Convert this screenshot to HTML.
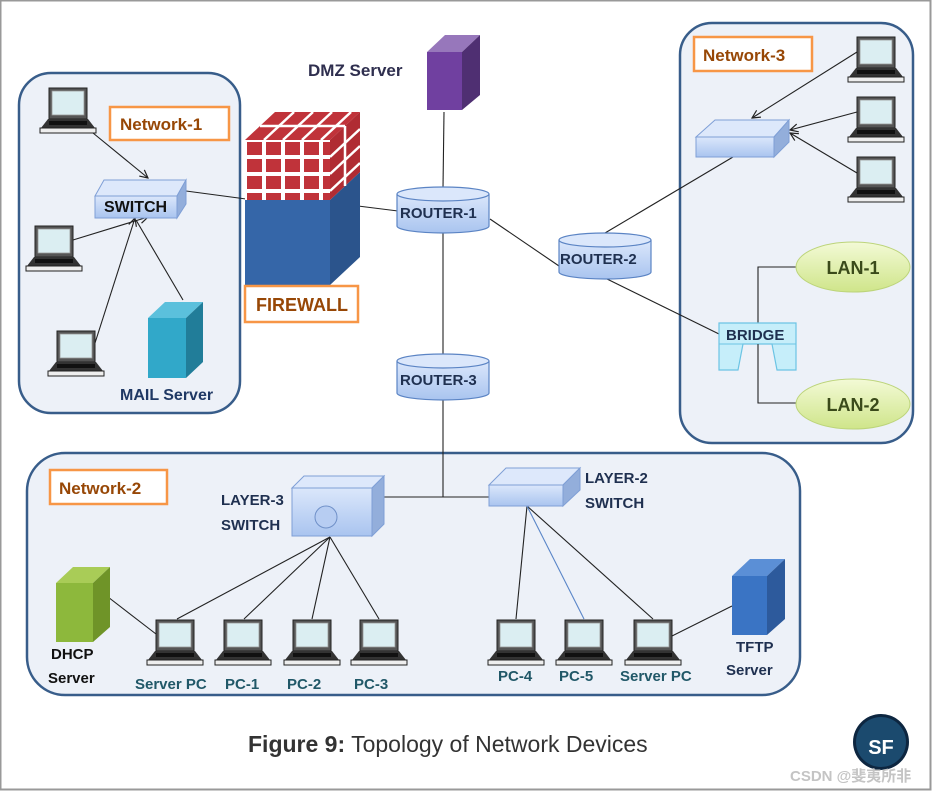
<!DOCTYPE html>
<html><head><meta charset="utf-8"><style>
html,body{margin:0;padding:0;background:#fff}
svg{display:block}
text{font-family:"Liberation Sans",sans-serif;font-weight:bold}
</style></head><body>
<svg width="932" height="791" viewBox="0 0 932 791" xmlns="http://www.w3.org/2000/svg">
<defs>
<linearGradient id="blu" x1="0" y1="0" x2="0" y2="1"><stop offset="0" stop-color="#dbe7fb"/><stop offset="1" stop-color="#a9c4ef"/></linearGradient>
<linearGradient id="lan" x1="0" y1="0" x2="0" y2="1"><stop offset="0" stop-color="#f3fad6"/><stop offset="1" stop-color="#cfe58a"/></linearGradient>
<pattern id="brick" width="19" height="17" patternUnits="userSpaceOnUse" x="245" y="140"><rect width="19" height="17" fill="#fff"/><rect x="2" y="2" width="15" height="13" fill="#c0333a"/></pattern>
<marker id="ar" markerWidth="10" markerHeight="10" refX="9" refY="5" orient="auto" markerUnits="userSpaceOnUse"><path d="M1,1 L9,5 L1,9" fill="none" stroke="#222" stroke-width="1.2"/></marker>
<g id="lap">
<rect x="0" y="0" width="38" height="31" fill="#555" stroke="#222"/>
<rect x="3" y="3" width="32" height="24" fill="#dbeef2" stroke="#999" stroke-width="0.8"/>
<path d="M-1,31 L39,31 L46,40 L-8,40 Z" fill="#333"/>
<rect x="-9" y="40" width="56" height="5" fill="#eee" stroke="#222"/>
<rect x="0" y="33" width="38" height="4" fill="#111"/>
</g>
</defs>
<rect x="0.5" y="0.5" width="930" height="789" fill="#fff" stroke="#999" stroke-width="2"/>

<rect x="19" y="73" width="221" height="340" rx="32" fill="#edf1f8" stroke="#385d8a" stroke-width="2.5"/>
<rect x="680" y="23" width="233" height="420" rx="32" fill="#edf1f8" stroke="#385d8a" stroke-width="2.5"/>
<rect x="27" y="453" width="773" height="242" rx="38" fill="#edf1f8" stroke="#385d8a" stroke-width="2.5"/>

<g stroke="#222" stroke-width="1.1" fill="none">
<line x1="93" y1="133" x2="148" y2="178" marker-end="url(#ar)"/>
<line x1="73" y1="240" x2="148" y2="217" marker-end="url(#ar)"/>
<line x1="95" y1="343" x2="135" y2="218" marker-end="url(#ar)"/>
<line x1="183" y1="300" x2="136" y2="220" />
<line x1="186" y1="191" x2="246" y2="199"/>
<line x1="358" y1="206" x2="398" y2="211"/>
<line x1="444" y1="112" x2="443" y2="188"/>
<line x1="443" y1="233" x2="443" y2="355"/>
<line x1="443" y1="400" x2="443" y2="497"/>
<line x1="384" y1="497" x2="489" y2="497"/>
<line x1="490" y1="219" x2="559" y2="266"/>
<line x1="605" y1="233" x2="733" y2="157"/>
<line x1="605" y1="278" x2="719" y2="334"/>
<line x1="857" y1="52" x2="752" y2="118" marker-end="url(#ar)"/>
<line x1="857" y1="112" x2="790" y2="130" marker-end="url(#ar)"/>
<line x1="857" y1="173" x2="790" y2="133" marker-end="url(#ar)"/>
<polyline points="796,267 758,267 758,403 796,403"/>
<line x1="330" y1="537" x2="177" y2="619"/>
<line x1="330" y1="537" x2="244" y2="619"/>
<line x1="330" y1="537" x2="312" y2="619"/>
<line x1="330" y1="537" x2="379" y2="619"/>
<line x1="108" y1="597" x2="156" y2="634"/>
<line x1="527" y1="506" x2="516" y2="619"/>
<line x1="527" y1="506" x2="653" y2="619"/>
<line x1="672" y1="636" x2="732" y2="606"/>
</g>
<line x1="527" y1="506" x2="584" y2="619" stroke="#5a86c8" stroke-width="1.1"/>

<use href="#lap" x="49" y="88"/>
<use href="#lap" x="35" y="226"/>
<use href="#lap" x="57" y="331"/>
<use href="#lap" x="857" y="37"/>
<use href="#lap" x="857" y="97"/>
<use href="#lap" x="857" y="157"/>
<use href="#lap" x="156" y="620"/>
<use href="#lap" x="224" y="620"/>
<use href="#lap" x="293" y="620"/>
<use href="#lap" x="360" y="620"/>
<use href="#lap" x="497" y="620"/>
<use href="#lap" x="565" y="620"/>
<use href="#lap" x="634" y="620"/>

<path d="M95,196 L104,180 L186,180 L177,196 Z" fill="#dde8fb" stroke="#7f9fd6"/>
<path d="M177,196 L186,180 L186,204 L177,218 Z" fill="#93aedb" stroke="#7f9fd6"/>
<rect x="95" y="196" width="82" height="22" fill="url(#blu)" stroke="#7f9fd6"/>
<text x="104" y="212" font-size="16" fill="#111">SWITCH</text>

<path d="M696,137 L715,120 L789,120 L774,137 Z" fill="#dde8fb" stroke="#7f9fd6"/>
<path d="M774,137 L789,120 L789,142 L774,157 Z" fill="#93aedb" stroke="#7f9fd6"/>
<rect x="696" y="137" width="78" height="20" fill="url(#blu)" stroke="#7f9fd6"/>

<path d="M148,318 L165,302 L203,302 L186,318 Z" fill="#5bc0dc"/>
<path d="M186,318 L203,302 L203,362 L186,378 Z" fill="#217d99"/>
<rect x="148" y="318" width="38" height="60" fill="#31a8c9"/>

<!-- firewall -->
<rect x="245" y="200" width="85" height="85" fill="#3566a8"/>
<path d="M330,200 L360,172 L360,257 L330,285 Z" fill="#2b548c"/>
<path d="M245,140 L275,112 L360,112 L330,140 Z" fill="#c0333a"/>
<path d="M330,140 L360,112 L360,172 L330,200 Z" fill="#b02c33"/>
<rect x="245" y="140" width="85" height="60" fill="url(#brick)"/>
<g stroke="#fff" stroke-width="2.5">
<line x1="260" y1="126" x2="345" y2="126"/>
<line x1="264" y1="140" x2="294" y2="112"/>
<line x1="283" y1="140" x2="313" y2="112"/>
<line x1="302" y1="140" x2="332" y2="112"/>
<line x1="321" y1="140" x2="351" y2="112"/>
<line x1="330" y1="157" x2="360" y2="129"/>
<line x1="330" y1="174" x2="360" y2="146"/>
<line x1="330" y1="191" x2="360" y2="163"/>
<line x1="345" y1="126" x2="345" y2="186"/>
</g>
<rect x="245" y="286" width="113" height="36" fill="#fff" stroke="#f79646" stroke-width="2.5"/>
<text x="256" y="311" font-size="18" fill="#974706">FIREWALL</text>

<path d="M427,52 L445,35 L480,35 L462,52 Z" fill="#9777bb"/>
<path d="M462,52 L480,35 L480,95 L462,110 Z" fill="#4f2f72"/>
<rect x="427" y="52" width="35" height="58" fill="#7040a0"/>
<text x="308" y="76" font-size="17" fill="#2f2f4f">DMZ Server</text>

<g stroke="#5b84c4" stroke-width="1.2">
<path d="M397,194 L397,226 A46,7 0 0 0 489,226 L489,194" fill="url(#blu)"/>
<ellipse cx="443" cy="194" rx="46" ry="7" fill="#dbe7fb"/>
<path d="M559,240 L559,272 A46,7 0 0 0 651,272 L651,240" fill="url(#blu)"/>
<ellipse cx="605" cy="240" rx="46" ry="7" fill="#dbe7fb"/>
<path d="M397,361 L397,393 A46,7 0 0 0 489,393 L489,361" fill="url(#blu)"/>
<ellipse cx="443" cy="361" rx="46" ry="7" fill="#dbe7fb"/>
</g>
<text x="400" y="218" font-size="15" fill="#1f3050" font-weight="normal">ROUTER-1</text>
<text x="560" y="264" font-size="15" fill="#1f3050" font-weight="normal">ROUTER-2</text>
<text x="400" y="385" font-size="15" fill="#1f3050" font-weight="normal">ROUTER-3</text>

<path d="M719,323 L796,323 L796,370 L777,370 L772,344 L743,344 L738,370 L719,370 Z" fill="#c6eefa" stroke="#6cc4e4" stroke-width="1.2"/>
<line x1="719" y1="344" x2="796" y2="344" stroke="#6cc4e4"/>
<line x1="758" y1="344" x2="758" y2="370" stroke="#222"/>
<text x="726" y="340" font-size="15" fill="#1f3050">BRIDGE</text>

<ellipse cx="853" cy="267" rx="57" ry="25" fill="url(#lan)" stroke="#bcd47a"/>
<ellipse cx="853" cy="404" rx="57" ry="25" fill="url(#lan)" stroke="#bcd47a"/>
<text x="853" y="274" font-size="18" fill="#3a4a1a" text-anchor="middle" font-weight="normal">LAN-1</text>
<text x="853" y="411" font-size="18" fill="#3a4a1a" text-anchor="middle" font-weight="normal">LAN-2</text>

<path d="M292,488 L304,476 L384,476 L372,488 Z" fill="#dde8fb" stroke="#7f9fd6"/>
<path d="M372,488 L384,476 L384,524 L372,536 Z" fill="#93aedb" stroke="#7f9fd6"/>
<rect x="292" y="488" width="80" height="48" fill="url(#blu)" stroke="#7f9fd6"/>
<circle cx="326" cy="517" r="11" fill="#b7cdf2" stroke="#6f90c8"/>
<text x="221" y="505" font-size="15" fill="#1f3050">LAYER-3</text>
<text x="221" y="530" font-size="15" fill="#1f3050">SWITCH</text>

<path d="M489,485 L506,468 L580,468 L563,485 Z" fill="#dde8fb" stroke="#7f9fd6"/>
<path d="M563,485 L580,468 L580,490 L563,506 Z" fill="#93aedb" stroke="#7f9fd6"/>
<rect x="489" y="485" width="74" height="21" fill="url(#blu)" stroke="#7f9fd6"/>
<text x="585" y="483" font-size="15" fill="#1f3050">LAYER-2</text>
<text x="585" y="508" font-size="15" fill="#1f3050">SWITCH</text>

<path d="M56,583 L73,567 L110,567 L93,583 Z" fill="#a9cc57"/>
<path d="M93,583 L110,567 L110,627 L93,642 Z" fill="#6f9428"/>
<rect x="56" y="583" width="37" height="59" fill="#8db83c"/>
<text x="51" y="659" font-size="15" fill="#111">DHCP</text>
<text x="48" y="683" font-size="15" fill="#111">Server</text>

<path d="M732,576 L750,559 L785,559 L767,576 Z" fill="#5b8fd6"/>
<path d="M767,576 L785,559 L785,619 L767,635 Z" fill="#2d5a9c"/>
<rect x="732" y="576" width="35" height="59" fill="#3a74c4"/>
<text x="736" y="652" font-size="15" fill="#1f3050">TFTP</text>
<text x="726" y="675" font-size="15" fill="#1f3050">Server</text>

<rect x="110" y="107" width="119" height="33" fill="#fff" stroke="#f79646" stroke-width="2.5"/>
<text x="120" y="130" font-size="17" fill="#974706">Network-1</text>
<rect x="694" y="37" width="118" height="34" fill="#fff" stroke="#f79646" stroke-width="2.5"/>
<text x="703" y="61" font-size="17" fill="#974706">Network-3</text>
<rect x="50" y="470" width="117" height="34" fill="#fff" stroke="#f79646" stroke-width="2.5"/>
<text x="59" y="494" font-size="17" fill="#974706">Network-2</text>

<text x="120" y="400" font-size="16" fill="#1f3864">MAIL Server</text>

<g font-size="15" fill="#215868">
<text x="135" y="689">Server PC</text>
<text x="225" y="689">PC-1</text>
<text x="287" y="689">PC-2</text>
<text x="354" y="689">PC-3</text>
<text x="498" y="681">PC-4</text>
<text x="559" y="681">PC-5</text>
<text x="620" y="681">Server PC</text>
</g>

<text x="248" y="752" font-size="23" fill="#333">Figure 9:<tspan font-weight="normal">  Topology of Network Devices</tspan></text>

<circle cx="881" cy="742" r="28" fill="#0d2640"/>
<circle cx="881" cy="742" r="25" fill="#1b4a6e"/>
<text x="881" y="754" font-size="20" fill="#fff" text-anchor="middle">SF</text>
<text x="790" y="781" font-size="15" fill="#c4c4c4" font-weight="normal" style="font-family:'Liberation Sans','Noto Sans CJK SC',sans-serif">CSDN @斐夷所非</text>
</svg>
</body></html>
